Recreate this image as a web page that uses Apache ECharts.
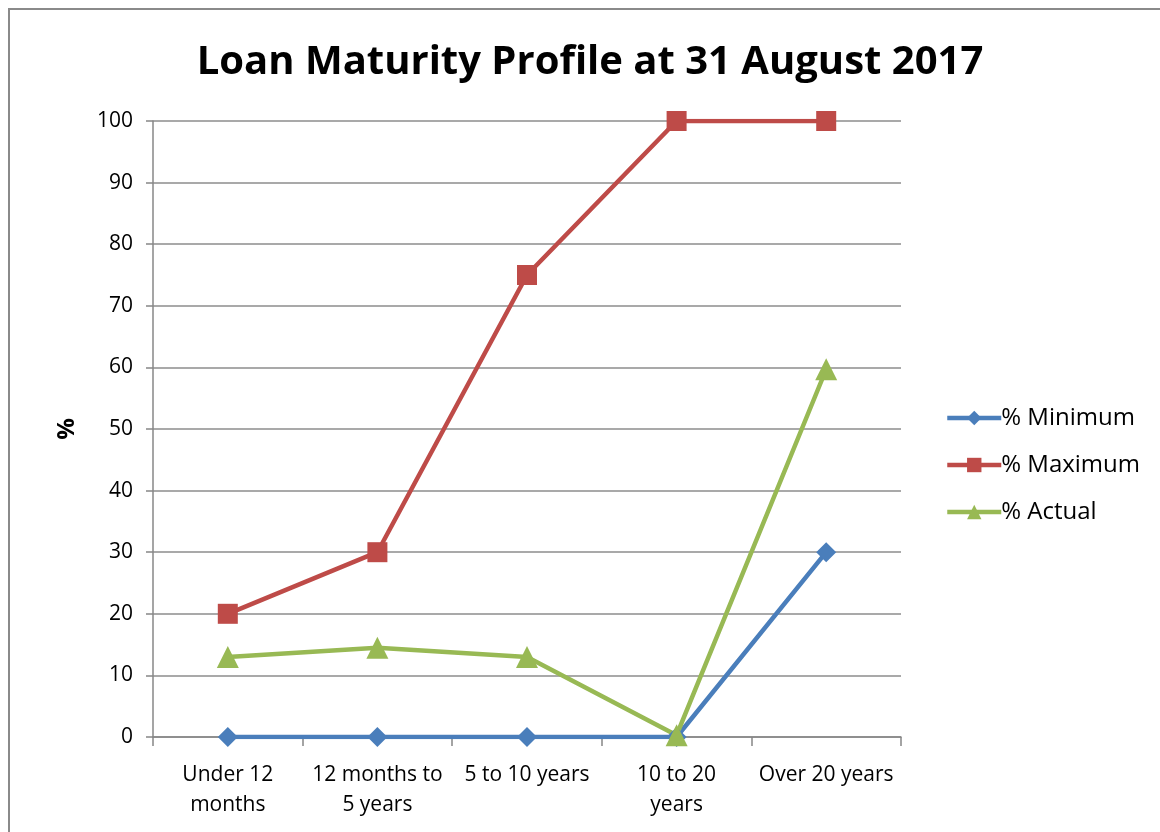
<!DOCTYPE html>
<html>
<head>
<meta charset="utf-8">
<script src="https://cdn.jsdelivr.net/npm/echarts@6/dist/echarts.min.js"></script>
<style>
  html, body { margin: 0; padding: 0; background: #fff; }
  #frame { position: absolute; left: 8px; top: 8px; width: 1170px; height: 840px; border: 2px solid #8a8a8a; box-sizing: border-box; }
  #main { position: absolute; left: 0; top: 0; width: 1160px; height: 832px; }
</style>
</head>
<body>
<div id="frame"></div>
<div id="main"></div>
<script>
// 到期类别
const categories = ['Under 12\nmonths', '12 months to\n5 years', '5 to 10 years', '10 to 20\nyears', 'Over 20 years'];
const minimumPct = [0, 0, 0, 0, 30];
const maximumPct = [20, 30, 75, 100, 100];
const actualPct = [13, 14.5, 13, 0.3, 59.7];

const font = '"Open Sans", "Noto Sans", sans-serif';
const chart = echarts.init(document.getElementById('main'), null, { renderer: 'canvas' });

const lineSeries = (name, data, color, symbol, size) => ({
    name: name,
    type: 'line',
    data: data,
    symbol: symbol,
    symbolSize: size,
    lineStyle: { color: color, width: 4.5 },
    itemStyle: { color: color },
    emphasis: { disabled: true },
    z: 3
});

const options = {
    animation: false,
    backgroundColor: 'transparent',
    title: {
        text: 'Loan Maturity Profile at 31 August 2017',
        left: 585,
        textAlign: 'center',
        top: 38,
        textStyle: { fontFamily: font, fontWeight: 'bold', fontSize: 40, color: '#000' }
    },
    legend: {
        orient: 'vertical',
        left: 940,
        top: 401,
        itemGap: 23,
        itemWidth: 54,
        itemHeight: 18,
        lineStyle: { width: 4.5 },
        textStyle: { fontFamily: font, fontSize: 24, color: '#000', padding: [0, 0, 0, -5] },
        data: ['% Minimum', '% Maximum', '% Actual']
    },
    grid: { left: 153, right: 259, top: 121, bottom: 95 },
    xAxis: {
        type: 'category',
        data: categories,
        boundaryGap: true,
        axisLine: { lineStyle: { color: '#878787', width: 1.5 } },
        axisTick: { show: true, length: 9, lineStyle: { color: '#878787', width: 1.5 } },
        axisLabel: { fontFamily: font, fontSize: 21, color: '#000', margin: 23, lineHeight: 30, interval: 0 }
    },
    yAxis: {
        type: 'value',
        min: 0,
        max: 100,
        interval: 10,
        name: '%',
        nameLocation: 'middle',
        nameGap: 74,
        nameRotate: 90,
        nameTextStyle: { fontFamily: font, fontWeight: 'bold', fontSize: 24, color: '#000' },
        axisLine: { show: true, lineStyle: { color: '#878787', width: 1.5 } },
        axisTick: { show: true, length: 7, lineStyle: { color: '#878787', width: 1.5 } },
        axisLabel: { fontFamily: font, fontSize: 21, color: '#000', margin: 20 },
        splitLine: { lineStyle: { color: '#8c8c8c', width: 1.5 } }
    },
    series: [
        lineSeries('% Minimum', minimumPct, '#4a7ebb', 'diamond', 20),
        lineSeries('% Maximum', maximumPct, '#be4b48', 'rect', 20),
        lineSeries('% Actual', actualPct, '#98b954', 'triangle', 22)
    ]
};
chart.setOption(options);
</script>
</body>
</html>
